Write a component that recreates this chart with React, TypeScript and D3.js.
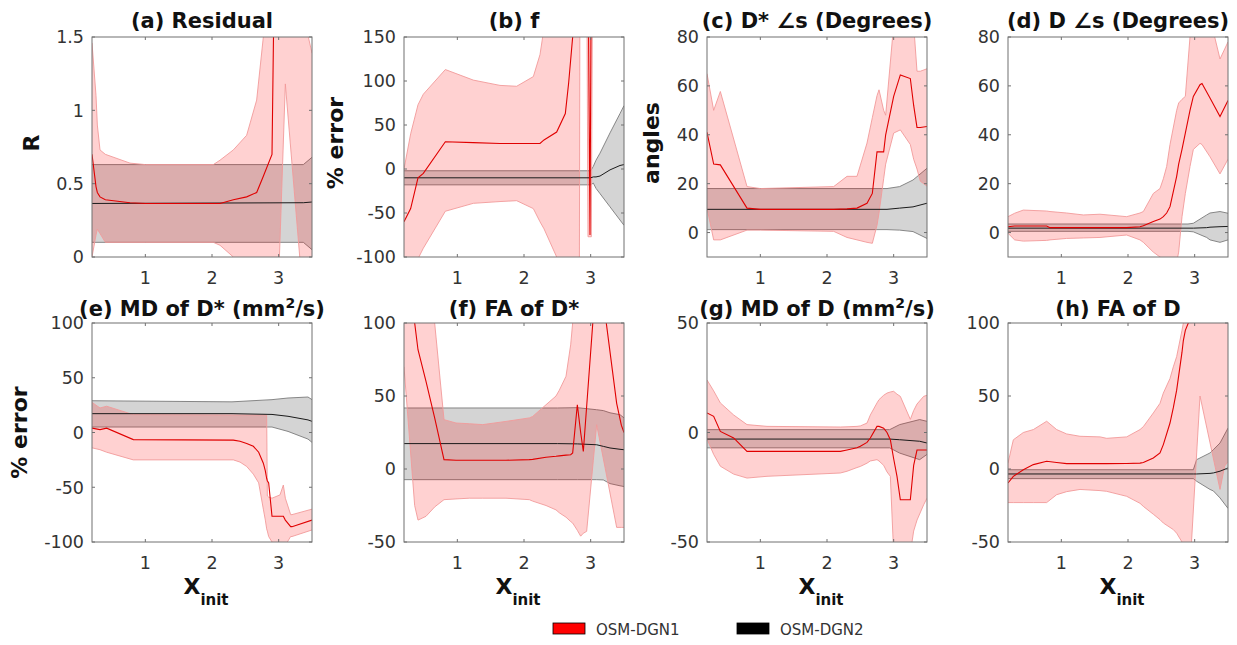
import * as d3 from "d3";

// each row: [x, lower, mean, upper]
type Row = [number, number, number, number];

const xDomain: [number, number] = [0.2, 3.5];
const xTicks = [1, 2, 3];

// (a) Residual
const aRed: Row[] = [
  [0.2, 0.0, 0.7, 1.46], [0.26, 0.15, 0.48, 1.1], [0.28, 0.19, 0.44, 0.9], [0.32, 0.16, 0.41, 0.73],
  [0.4, 0.1, 0.39, 0.7], [0.77, 0.1, 0.37, 0.64], [1.0, 0.1, 0.365, 0.63], [2.02, 0.1, 0.365, 0.63],
  [2.12, 0.08, 0.365, 0.66], [2.32, 0.0, 0.39, 0.73], [2.52, -0.1, 0.41, 0.83], [2.67, -0.2, 0.44, 1.07],
  [2.77, -0.3, 0.55, 1.5], [2.9, -0.3, 0.7, 2.5], [2.95, -0.2, 2.5, 3.0], [3.01, -0.02, 2.5, 3.0],
  [3.1, 1.18, 2.5, 3.0], [3.32, -0.02, 2.5, 3.0], [3.42, -0.1, 2.5, 1.55], [3.5, -0.1, 2.5, 1.39],
];
const aGray: Row[] = [
  [0.2, 0.1, 0.365, 0.63], [3.37, 0.1, 0.37, 0.63], [3.5, 0.05, 0.375, 0.68],
];

// (b) f
const bRed: Row[] = [
  [0.2, -140, -60, 0], [0.3, -120, -45, 40], [0.41, -102, -10, 73], [0.49, -90, -5, 85],
  [0.82, -48, 31, 113], [1.24, -39, 30, 101], [1.64, -37, 29, 95], [1.89, -36, 29, 94],
  [2.14, -45, 29, 105], [2.24, -60, 29, 130], [2.3, -68, 33, 160], [2.49, -100, 42, 200],
  [2.62, -130, 63, 200], [2.67, -140, 98, 200], [2.73, -150, 150, 200], [2.83, -150, 250, 300],
  [2.84, 250, 250, 300], [2.94, 250, 250, 300], [2.96, -77, 250, 300], [2.99, -77, -75, 300],
  [3.01, -77, 250, 300], [3.03, 250, 250, 300], [3.5, 250, 250, 300],
];
const bGray: Row[] = [
  [0.2, -18, -10, -2], [3.0, -18, -10, -2], [3.04, -16, -9, 3], [3.08, -22, -9, 10],
  [3.14, -28, -8, 18], [3.29, -43, -1, 41], [3.44, -58, 4, 63], [3.5, -64, 5, 72],
];

// (c) D* angles
const cRed: Row[] = [
  [0.2, 10, 41, 65], [0.3, -3, 28, 50], [0.4, -3, 27.7, 57.7], [0.8, 1, 10, 18.8],
  [1.0, 1, 9.5, 18], [2.1, 0.5, 9.5, 18.8], [2.3, -2, 9.7, 23], [2.45, -3, 10, 23],
  [2.6, -4, 12, 36.6], [2.68, -4.4, 16, 47], [2.75, 3, 33, 56], [2.78, 8, 33, 58.4],
  [2.85, 22, 33, 50], [2.88, 28, 40, 48], [3.0, 40.7, 55.7, 85], [3.1, 42, 64.5, 95],
  [3.25, 36, 63, 95], [3.3, 30, 52, 85], [3.35, 26, 43, 66], [3.4, 21, 43, 66], [3.5, 19, 43.4, 67],
];
const cGray: Row[] = [
  [0.2, 1.2, 9.5, 18], [2.9, 1.2, 9.5, 18], [3.09, 1, 10, 18.8], [3.29, 0.4, 10.5, 21.5], [3.5, -2.4, 12, 26.3],
];

// (d) D angles
const dRed: Row[] = [
  [0.2, -0.3, 2.4, 6.5], [0.3, -3, 2.7, 7.9], [0.43, -3.5, 2.7, 9.2], [0.78, -3.2, 2.7, 8.8],
  [0.83, -3, 2, 8.6], [1.08, -2.4, 2, 8], [1.33, -2.2, 2, 7.2], [1.58, -2, 2, 7.5],
  [1.98, -1, 2, 6.5], [2.18, -3, 2.4, 8], [2.23, -4, 2.8, 8.6], [2.38, -8, 4.5, 16],
  [2.48, -10, 5.5, 18], [2.53, -11, 6.5, 22], [2.58, -12, 8, 27], [2.63, -12, 10.6, 36],
  [2.73, -12, 23, 50], [2.76, -8, 28, 53], [2.81, 6.5, 34, 54.5], [2.86, 16, 40.7, 55.7],
  [2.93, 27, 50, 80], [2.98, 34, 55.7, 90], [3.08, 36.5, 60.5, 95], [3.11, 36, 61, 95],
  [3.23, 31, 55, 88], [3.38, 24, 47.5, 71], [3.5, 30, 54, 78],
];
const dGray: Row[] = [
  [0.2, 0.5, 1.8, 3.5], [2.9, 0.5, 1.8, 3.5], [2.98, 0.3, 1.8, 3.8], [3.18, -2, 2, 7.2],
  [3.23, -3, 2.2, 8], [3.38, -4, 2.4, 8.6], [3.5, -3, 2.5, 7.9],
];

// (e) MD of D*
const eRed: Row[] = [
  [0.2, -14, 4, 27.5], [0.32, -15.7, 2.6, 22.4], [0.42, -18, 4, 24], [0.82, -25, -6.5, 16.3],
  [2.32, -25, -7, 16], [2.42, -27, -8, 16], [2.52, -31, -10, 16], [2.62, -38, -12.6, 16],
  [2.7, -46, -18, 16], [2.77, -70, -28, 16], [2.8, -80, -35, 16], [2.82, -88, -42, 15.7],
  [2.83, -90, -44, -58], [2.85, -95, -46, -59], [2.9, -100, -76.5, -60], [3.02, -105, -76.5, -57],
  [3.07, -107, -76.5, -48], [3.1, -103, -80, -60], [3.18, -95, -86, -75], [3.2, -95, -86, -75],
  [3.5, -89, -80, -70],
];
const eGray: Row[] = [
  [0.2, 5, 17.2, 29], [2.3, 5, 17.2, 28], [2.9, 5, 16.5, 30], [3.14, 1, 14.8, 31.5],
  [3.44, -6, 11.5, 32.4], [3.5, -9, 10.2, 30],
];

// (f) FA of D*
const fRed: Row[] = [
  [0.2, 70, 150, 200], [0.36, -25, 100, 200], [0.41, -35, 81.7, 200], [0.53, -32.4, 60, 200],
  [0.66, -26, 35, 100], [0.8, -21, 6.4, 33.8], [0.98, -20.5, 6, 31.5], [1.18, -20, 6, 31],
  [1.38, -20, 6, 30.4], [1.73, -20, 6, 32.6], [2.08, -21, 6.4, 35], [2.13, -22, 6.6, 36],
  [2.33, -25, 8, 44], [2.48, -28, 8.7, 50], [2.53, -30, 9, 54], [2.63, -33, 9.5, 63.5],
  [2.7, -36, 9.8, 85], [2.73, -37, 11, 100], [2.8, -42, 44, 150], [2.85, -46, 25, 150],
  [2.89, -44, 12, 150], [2.94, -42.7, 43, 150], [3.04, 6, 105, 150], [3.09, 30.3, 110, 150],
  [3.22, 0, 105, 150], [3.39, -40, 45, 150], [3.46, -40, 30, 150], [3.5, -40, 25, 150],
];
const fGray: Row[] = [
  [0.2, -7.3, 17.4, 41.8], [2.5, -7.3, 17.4, 41.8], [2.8, -7.3, 17.2, 42], [3.09, -7.3, 16.6, 40.6],
  [3.19, -7.5, 15.5, 40], [3.29, -10, 14.4, 38.5], [3.44, -11.5, 13.5, 37.2], [3.5, -12, 13.2, 35],
];

// (g) MD of D
const gRed: Row[] = [
  [0.2, -3, 8.9, 24], [0.3, -10, 7.4, 19], [0.4, -15.4, 0.5, 13.5], [0.6, -19, -2.5, 8],
  [0.8, -20.8, -8.6, 3.6], [1.1, -20, -8.6, 2.8], [2.2, -18.5, -8.6, 2.5], [2.3, -17.7, -8, 2.6],
  [2.45, -16, -7, 2.8], [2.5, -15.5, -6.3, 3], [2.6, -14, -4.5, 4.3], [2.65, -13, -2.5, 8],
  [2.75, -12.4, 2.8, 13.5], [2.78, -13, 2.8, 15], [2.85, -15, 2, 17], [2.9, -18, 0, 18],
  [2.95, -20, -3.3, 18.5], [3.0, -55, -12, 18.8], [3.05, -58, -20, 17.5], [3.1, -60, -30.7, 16.5],
  [3.25, -55, -30.7, 6], [3.3, -45, -15, 10], [3.35, -40, -8, 13], [3.45, -33, -8, 16.5],
  [3.5, -30, -8, 17],
];
const gGray: Row[] = [
  [0.2, -7, -3, 1.3], [2.94, -7, -3, 1.3], [3.09, -9.4, -3.3, 3.6], [3.39, -12.4, -4, 5.9], [3.5, -10, -4.8, 5.1],
];

// (h) FA of D
const hRed: Row[] = [
  [0.2, -23, -9.6, 4], [0.28, -23, -5, 20], [0.43, -23, -0.5, 25], [0.58, -23, 3, 27],
  [0.78, -23, 5.3, 32.7], [0.93, -17.6, 4.5, 27], [1.08, -15.5, 3.7, 24], [1.28, -14, 3.7, 22.4],
  [1.58, -14.8, 3.7, 22], [1.68, -15.3, 3.7, 21], [1.98, -18.7, 3.8, 22], [2.18, -23.5, 4, 27],
  [2.23, -25.6, 4.5, 29], [2.38, -31, 7.5, 38.4], [2.48, -34.7, 11, 45], [2.53, -37, 16.7, 52],
  [2.63, -40, 31.5, 62], [2.68, -41.5, 42, 70], [2.73, -44, 54, 77], [2.81, -50, 80, 95],
  [2.83, -53, 88, 100], [2.86, -56, 95, 120], [2.95, -52, 105, 150], [3.08, 50, 130, 150],
  [3.38, -14, 130, 150], [3.45, 2, 130, 150], [3.5, 5, 130, 150],
];
const hGray: Row[] = [
  [0.2, -6.6, -3.4, -0.5], [2.98, -6.6, -3.4, -0.5], [3.03, -8.4, -3.4, 6.4], [3.23, -14, -3, 11],
  [3.28, -15, -2.7, 13.2], [3.38, -19.8, -1.5, 17.8], [3.5, -27, 0.7, 28],
];

const legendLabels = ["OSM-DGN1", "OSM-DGN2"];

const FONT = "DejaVu Sans";
const lefts = [92, 404, 707, 1008];
const tops = [37, 323];
const W = 220;

const panels = [
  { id: "a", col: 0, row: 0, title: ["(a) Residual"], yDomain: [0, 1.5], yTicks: [0, 0.5, 1, 1.5], red: aRed, gray: aGray, ylabel: "R", ylabelX: 39 },
  { id: "b", col: 1, row: 0, title: ["(b) f"], yDomain: [-100, 150], yTicks: [-100, -50, 0, 50, 100, 150], red: bRed, gray: bGray, ylabel: "% error", ylabelX: 343 },
  { id: "c", col: 2, row: 0, title: ["(c) D* \u2220s (Degrees)"], yDomain: [-10, 80], yTicks: [0, 20, 40, 60, 80], red: cRed, gray: cGray, ylabel: "angles", ylabelX: 659 },
  { id: "d", col: 3, row: 0, title: ["(d) D \u2220s (Degrees)"], yDomain: [-10, 80], yTicks: [0, 20, 40, 60, 80], red: dRed, gray: dGray },
  { id: "e", col: 0, row: 1, title: ["(e) MD of D* (mm", "2", "/s)"], yDomain: [-100, 100], yTicks: [-100, -50, 0, 50, 100], red: eRed, gray: eGray, ylabel: "% error", ylabelX: 27 },
  { id: "f", col: 1, row: 1, title: ["(f) FA of D*"], yDomain: [-50, 100], yTicks: [-50, 0, 50, 100], red: fRed, gray: fGray },
  { id: "g", col: 2, row: 1, title: ["(g) MD of D (mm", "2", "/s)"], yDomain: [-50, 50], yTicks: [-50, 0, 50], red: gRed, gray: gGray },
  { id: "h", col: 3, row: 1, title: ["(h) FA of D"], yDomain: [-50, 100], yTicks: [-50, 0, 50, 100], red: hRed, gray: hGray },
];

function Panel({ p }: { p: any }) {
  const left = lefts[p.col];
  const top = tops[p.row];
  const h = p.row ? 219 : 220;
  const x = d3.scaleLinear().domain(xDomain).range([left, left + W]);
  const y = d3.scaleLinear().domain(p.yDomain).range([top + h, top]);

  const band = d3.area<Row>().x((d) => x(d[0])).y0((d) => y(d[1])).y1((d) => y(d[3]));
  const loLine = d3.line<Row>().x((d) => x(d[0])).y((d) => y(d[1]));
  const hiLine = d3.line<Row>().x((d) => x(d[0])).y((d) => y(d[3]));
  const meanLine = d3.line<Row>().x((d) => x(d[0])).y((d) => y(d[2]));

  const clipId = `clip-${p.id}`;
  const titleY = p.row ? 316 : 28;
  const cx = left + W / 2;

  return (
    <g>
      <defs>
        <clipPath id={clipId}>
          <rect x={left} y={top} width={W} height={h} />
        </clipPath>
      </defs>
      <g clipPath={`url(#${clipId})`}>
        <path d={band(p.gray) || ""} fill="#000" fillOpacity={0.17} />
        <path d={loLine(p.gray) || ""} fill="none" stroke="#7a7a7a" strokeWidth={0.9} />
        <path d={hiLine(p.gray) || ""} fill="none" stroke="#7a7a7a" strokeWidth={0.9} />
        <path d={band(p.red) || ""} fill="#ff0000" fillOpacity={0.18} />
        <path d={loLine(p.red) || ""} fill="none" stroke="#f29a9a" strokeWidth={0.9} />
        <path d={hiLine(p.red) || ""} fill="none" stroke="#f29a9a" strokeWidth={0.9} />
        <path d={meanLine(p.gray) || ""} fill="none" stroke="#1a1a1a" strokeWidth={1} />
        <path d={meanLine(p.red) || ""} fill="none" stroke="#e00000" strokeWidth={1.1} />
      </g>
      <rect x={left} y={top} width={W} height={h} fill="none" stroke="#707070" strokeWidth={1} />
      {xTicks.map((t) => (
        <g key={`x${t}`}>
          <line x1={x(t)} x2={x(t)} y1={top + h} y2={top + h - 3} stroke="#707070" />
          <line x1={x(t)} x2={x(t)} y1={top} y2={top + 3} stroke="#707070" />
          <text x={x(t)} y={top + h + 27} textAnchor="middle" fontFamily={FONT} fontSize={17.5} fill="#333">
            {t}
          </text>
        </g>
      ))}
      {p.yTicks.map((t: number) => (
        <g key={`y${t}`}>
          <line x1={left} x2={left + 3} y1={y(t)} y2={y(t)} stroke="#707070" />
          <line x1={left + W} x2={left + W - 3} y1={y(t)} y2={y(t)} stroke="#707070" />
          <text x={left - 8} y={y(t)} dy="0.36em" textAnchor="end" fontFamily={FONT} fontSize={17.5} fill="#333">
            {String(t)}
          </text>
        </g>
      ))}
      <text x={cx} y={titleY} textAnchor="middle" fontFamily={FONT} fontSize={21} fontWeight="bold" fill="#111">
        {p.title.length === 1 ? (
          p.title[0]
        ) : (
          <>
            <tspan>{p.title[0]}</tspan>
            <tspan dy={-8} fontSize={14}>{p.title[1]}</tspan>
            <tspan dy={8}>{p.title[2]}</tspan>
          </>
        )}
      </text>
      {p.ylabel && (
        <text
          transform={`translate(${p.ylabelX},${top + h / 2 - (p.row ? 0 : 4)}) rotate(-90)`}
          textAnchor="middle"
          fontFamily={FONT}
          fontSize={22}
          fontWeight="bold"
          fill="#111"
        >
          {p.ylabel}
        </text>
      )}
      {p.row === 1 && (
        <text x={cx + 4} y={594} textAnchor="middle" fontFamily={FONT} fontWeight="bold" fill="#111">
          <tspan fontSize={22}>X</tspan>
          <tspan fontSize={15} dy={11}>init</tspan>
        </text>
      )}
    </g>
  );
}

export default function App() {
  const legendColors = ["#ff0000", "#000000"];
  const legendX = [553, 737];
  return (
    <svg width={1237} height={645} style={{ position: "absolute", left: 0, top: 0, background: "#fff" }}>
      {panels.map((p) => (
        <Panel key={p.id} p={p} />
      ))}
      {legendLabels.map((lab, i) => (
        <g key={lab}>
          <rect x={legendX[i]} y={623} width={32} height={11} fill={legendColors[i]} stroke="#000" strokeWidth={0.8} />
          <text x={legendX[i] + 43} y={635} fontFamily={FONT} fontSize={15} fill="#333">
            {lab}
          </text>
        </g>
      ))}
    </svg>
  );
}
